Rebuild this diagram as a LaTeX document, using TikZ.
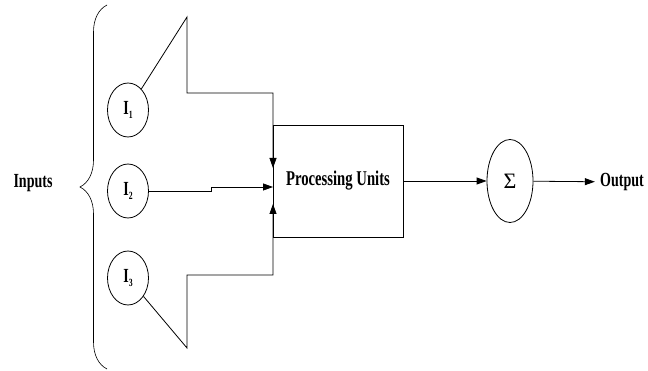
\documentclass[tikz,border=0pt]{standalone}
\usepackage{fontspec}
\setmainfont{Liberation Serif}
\usetikzlibrary{shapes.geometric, arrows.meta, decorations.pathreplacing}

\newcommand{\narrow}[1]{\scalebox{0.7}[1]{#1}}
\newcommand{\insub}[1]{I\raisebox{-0.4ex}{\fontsize{11}{11}\selectfont #1}}

\begin{document}
\begin{tikzpicture}[x=1pt, y=-1pt, line width=0.8pt,
  every node/.style={font=\bfseries\fontsize{20}{22}\selectfont},
  inp/.style={draw, ellipse, minimum width=41pt, minimum height=54pt, inner sep=0pt},
  tip/.style={-{Triangle[length=10pt, width=7pt]}}]
\useasboundingbox (0,0) rectangle (648,371);

% inputs
\path (33,183) node (inputs) {\narrow{Inputs}};
\path (128,110) node[inp] (i1) {\narrow{\insub{1}}};
\path (128,191) node[inp] (i2) {\narrow{\insub{2}}};
\path (128,278) node[inp] (i3) {\narrow{\insub{3}}};
\draw[line width=0.6pt, decorate, decoration={brace, amplitude=27pt}] (107,369) -- (107,5);

% processing and sum
\path (338,181) node[draw, minimum width=130pt, minimum height=112pt, inner sep=0pt, font=\bfseries\fontsize{21}{22}\selectfont] (proc) {\narrow{Processing Units}};
\path (510,181) node[draw, ellipse, minimum width=46pt, minimum height=83pt, inner sep=0pt, font=\fontsize{22}{22}\selectfont] (sum) {Σ};
\path (622,182) node[inner sep=2pt] (output) {\narrow{Output}};

\coordinate (t1) at (187,17);
\coordinate (c1) at (187,93);
\coordinate (a1) at (273,168);
\coordinate (s2) at (211,187);
\coordinate (a2) at (273,187);
\coordinate (t3) at (187,348);
\coordinate (c3) at (187,275);
\coordinate (a3) at (273,204);

\draw[tip] (i1) -- (t1) -- (c1) -| (a1);
\draw[tip] (i2.east) -| (s2) -- (a2);
\draw[tip] (i3) -- (t3) -- (c3) -| (a3);
\draw[tip] (proc) -- (sum);
\draw[tip, shorten >=3pt] (sum) -- (output);
\end{tikzpicture}
\end{document}
